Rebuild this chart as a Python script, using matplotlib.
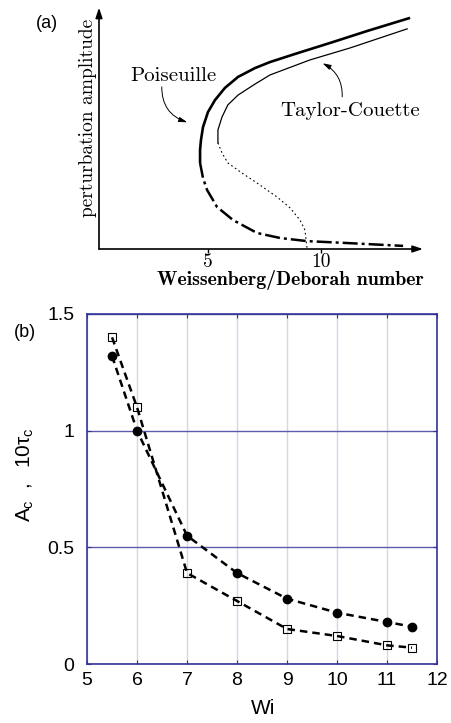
import matplotlib
matplotlib.use('Agg')
import matplotlib.pyplot as plt

plt.rcParams['axes.unicode_minus'] = False
plt.rcParams['mathtext.fontset'] = 'custom'
plt.rcParams['mathtext.rm'] = 'Liberation Sans'
plt.rcParams['mathtext.it'] = 'Liberation Sans'

# ---- panel (a): sketch of bifurcation curves
pois_x = [13.94, 12.04, 10.53, 8.85, 7.74, 7.08, 6.33, 5.75, 5.31, 5.00, 4.78, 4.69, 4.65, 4.65]
pois_y = [0.967, 0.912, 0.866, 0.816, 0.782, 0.757, 0.720, 0.674, 0.623, 0.573, 0.510, 0.456, 0.414, 0.360]
pois_unst_x = [4.65, 4.78, 4.96, 5.40, 6.11, 7.17, 8.19, 9.38, 11.15, 13.63]
pois_unst_y = [0.360, 0.297, 0.247, 0.176, 0.121, 0.067, 0.046, 0.033, 0.025, 0.013]

tc_x = [13.81, 11.28, 9.51, 7.74, 7.08, 6.33, 5.88, 5.62, 5.44, 5.44]
tc_y = [0.921, 0.841, 0.791, 0.728, 0.690, 0.644, 0.603, 0.552, 0.498, 0.444]
tc_unst_x = [5.44, 5.62, 5.88, 6.50, 7.17, 8.05, 8.63, 9.07, 9.29, 9.38]
tc_unst_y = [0.444, 0.402, 0.360, 0.318, 0.276, 0.218, 0.172, 0.121, 0.079, 0.004]

a_ticks = [5, 10]

# ---- panel (b): critical amplitude / time vs Wi
wi = [5.5, 6, 7, 8, 9, 10, 11, 11.5]
amp_c = [1.32, 1.00, 0.55, 0.39, 0.28, 0.22, 0.18, 0.16]
tau_c10 = [1.40, 1.10, 0.39, 0.27, 0.15, 0.12, 0.08, 0.07]
b_xticks = [5, 6, 7, 8, 9, 10, 11, 12]
b_yticks = [0, 0.5, 1, 1.5]
b_ylabels = ['0', '0.5', '1', '1.5']

fig = plt.figure(figsize=(4.51, 7.23), dpi=100)

# panel (a)
axa = fig.add_axes([0.2195, 0.6556, 0.7184, 0.3306])
axa.set_xlim(0.18, 14.51)
axa.set_ylim(0, 1)
for s in axa.spines.values():
    s.set_visible(False)
axa.set_yticks([])
axa.set_xticks(a_ticks)
axa.set_xticklabels([str(t) for t in a_ticks], family='cmr10', fontsize=14)
axa.tick_params(axis='x', direction='out', length=3, width=1, pad=0)

axa.annotate('', xy=(1.0, 0), xytext=(0, 0), xycoords='axes fraction',
             arrowprops=dict(arrowstyle='-|>,head_length=0.6,head_width=0.2',
                             lw=1.2, color='black', shrinkA=0, shrinkB=0))
axa.annotate('', xy=(0, 1.01), xytext=(0, 0), xycoords='axes fraction',
             arrowprops=dict(arrowstyle='-|>,head_length=0.6,head_width=0.2',
                             lw=1.2, color='black', shrinkA=0, shrinkB=0))

axa.plot(pois_x, pois_y, color='black', lw=1.9, solid_capstyle='butt',
         solid_joinstyle='round')
axa.plot(pois_unst_x, pois_unst_y, color='black', lw=1.8,
         linestyle=(0, (6, 1.6, 1.2, 1.6)))
axa.plot(tc_x, tc_y, color='black', lw=0.9, solid_joinstyle='round')
axa.plot(tc_unst_x, tc_unst_y, color='black', lw=0.8, linestyle=(0, (1.5, 2.5)))

axa.text(3.45, 0.724, 'Poiseuille', family='cmr10', fontsize=15,
         ha='center', va='center')
axa.annotate('', xy=(4.20, 0.527), xytext=(2.96, 0.69),
             arrowprops=dict(arrowstyle='-|>,head_length=0.5,head_width=0.15',
                             lw=0.7, color='black',
                             connectionstyle='arc3,rad=0.4'))
axa.text(11.28, 0.577, 'Taylor-Couette', family='cmr10', fontsize=15,
         ha='center', va='center')
axa.annotate('', xy=(9.96, 0.782), xytext=(10.93, 0.625),
             arrowprops=dict(arrowstyle='-|>,head_length=0.5,head_width=0.15',
                             lw=0.7, color='black',
                             connectionstyle='arc3,rad=0.35'))

fig.text(290 / 451, 1 - 280 / 723, 'Weissenberg/Deborah number', family='cmb10',
         fontsize=14.3, ha='center', va='center')
fig.text(88 / 451, 1 - 118 / 723, 'perturbation amplitude', family='cmr10',
         fontsize=14, rotation=90, ha='center', va='center')
fig.text(47 / 451, 1 - 23 / 723, '(a)', family='Liberation Sans', fontsize=13,
         ha='center', va='center')

# panel (b)
blue = '#333399'
axb = fig.add_axes([0.193, 0.0816, 0.776, 0.4841])
axb.set_xlim(5, 12)
axb.set_ylim(0, 1.5)
axb.set_xticks(b_xticks)
axb.set_yticks(b_yticks)
axb.set_yticklabels(b_ylabels)
axb.xaxis.grid(True, color='#d6d6ea', lw=1)
axb.yaxis.grid(True, color='#5c5cae', lw=1)
axb.set_axisbelow(True)
for s in axb.spines.values():
    s.set_color(blue)
    s.set_linewidth(1.2)
axb.tick_params(direction='in', length=3, color=blue, top=True, right=True,
                labelsize=14)
axb.tick_params(axis='y', pad=9)
axb.tick_params(axis='x', pad=6)
for lab in axb.get_xticklabels() + axb.get_yticklabels():
    lab.set_family('Liberation Sans')

axb.plot(wi, amp_c, color='black', lw=1.8, linestyle=(0, (3, 2)),
         marker='o', markersize=6, markerfacecolor='black')
axb.plot(wi, tau_c10, color='black', lw=1.8, linestyle=(0, (3, 2)),
         marker='s', markersize=5.5, markerfacecolor='none',
         markeredgecolor='black', markeredgewidth=0.8)

fig.text(25 / 451, 1 - 475 / 723, r'$A_{c}\ \ ,\ \ 10\tau_{c}$', fontsize=15,
         rotation=90, ha='center', va='center')
fig.text(263 / 451, 1 - 709 / 723, 'Wi', family='Liberation Sans', fontsize=15,
         ha='center', va='center')
fig.text(25 / 451, 1 - 333 / 723, '(b)', family='Liberation Sans', fontsize=13,
         ha='center', va='center')

fig.savefig('out.png', dpi=100)
